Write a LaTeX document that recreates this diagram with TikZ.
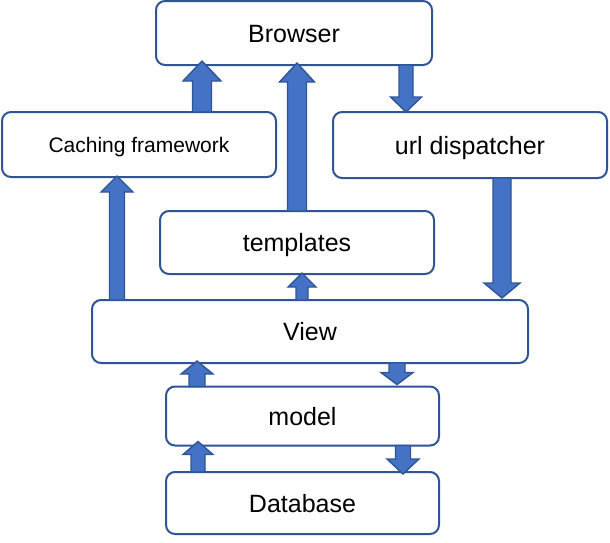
\documentclass[tikz,border=0pt]{standalone}
\usepackage{fontspec}
\setmainfont{Liberation Sans}
\usetikzlibrary{calc}
\definecolor{boxline}{HTML}{2F5597}
\definecolor{arrowfill}{HTML}{4472C4}
\definecolor{arrowline}{HTML}{2F5597}
\tikzset{
  box/.style={draw=boxline, line width=2pt, rounded corners=9pt, fill=white,
    outer sep=0pt, inner sep=0pt, font=\fontsize{25}{30}\selectfont, text=black,
    text height=18pt, text depth=0pt},
  smallbox/.style={box, font=\fontsize{21}{25}\selectfont, text height=15.1pt},
  barrow/.style={fill=arrowfill, draw=arrowline, line width=1.4pt, line join=miter}
}
\newcommand\blockarrow[5]{%
  \coordinate (ba-s) at #1;
  \coordinate (ba-t) at #2;
  \coordinate (ba-b) at ($(ba-t)!#5!(ba-s)$);
  \draw[barrow] ($(ba-s)!#3!90:(ba-t)$) -- ($(ba-b)!#3!-90:(ba-s)$)
    -- ($(ba-b)!#4!-90:(ba-s)$) -- (ba-t) -- ($(ba-b)!#4!90:(ba-s)$)
    -- ($(ba-b)!#3!90:(ba-s)$) -- ($(ba-s)!#3!-90:(ba-t)$) -- cycle;
}
\begin{document}
\begin{tikzpicture}[x=1pt,y=-1pt]
  \useasboundingbox (0,0) rectangle (610,542);
  % boxes
  \node[box, minimum width=276pt, minimum height=64pt] (browser) at (294,33) {Browser};
  \node[smallbox, minimum width=274pt, minimum height=65pt] (caching) at (139,144.5) {Caching framework};
  \node[box, minimum width=274pt, minimum height=66pt] (url) at (470,145) {url dispatcher};
  \node[box, minimum width=274pt, minimum height=63pt] (templates) at (297,242.5) {templates};
  \node[box, minimum width=436pt, minimum height=63pt] (view) at (310,331.5) {View};
  \node[box, minimum width=273pt, minimum height=59pt] (model) at (302.5,416) {model};
  \node[box, minimum width=273pt, minimum height=62pt] (database) at (302.5,503) {Database};
  % arrow columns
  \coordinate (c1) at (202,0);
  \coordinate (c2) at (297,0);
  \coordinate (c3) at (406,0);
  \coordinate (c4) at (117,0);
  \coordinate (c5) at (302,0);
  \coordinate (c6) at (502,0);
  \coordinate (c7) at (197,0);
  \coordinate (c8) at (397,0);
  \coordinate (c9) at (198,0);
  \coordinate (c10) at (403,0);
  % block arrows
  \blockarrow{(caching.north -| c1)}{($(browser.south -| c1)+(0,-4)$)}{9.5pt}{19pt}{20pt}
  \blockarrow{(templates.north -| c2)}{($(browser.south -| c2)+(0,-2)$)}{9.5pt}{17.5pt}{19pt}
  \blockarrow{(browser.south -| c3)}{(url.north -| c3)}{7pt}{15.5pt}{15pt}
  \blockarrow{(view.north -| c4)}{($(caching.south -| c4)+(0,-1)$)}{7.5pt}{16pt}{16pt}
  \blockarrow{(view.north -| c5)}{($(templates.south -| c5)+(0,-1)$)}{6pt}{14pt}{14pt}
  \blockarrow{(url.south -| c6)}{($(view.north -| c6)+(0,-2)$)}{9pt}{18pt}{15pt}
  \blockarrow{(model.north -| c7)}{($(view.south -| c7)+(0,-2)$)}{8pt}{16pt}{13pt}
  \blockarrow{(view.south -| c8)}{($(model.north -| c8)+(0,-2)$)}{8pt}{16pt}{12pt}
  \blockarrow{(database.north -| c9)}{($(model.south -| c9)+(0,-4)$)}{7pt}{15pt}{13pt}
  \blockarrow{(model.south -| c10)}{($(database.north -| c10)+(0,2)$)}{7.5pt}{16pt}{15pt}
\end{tikzpicture}
\end{document}
